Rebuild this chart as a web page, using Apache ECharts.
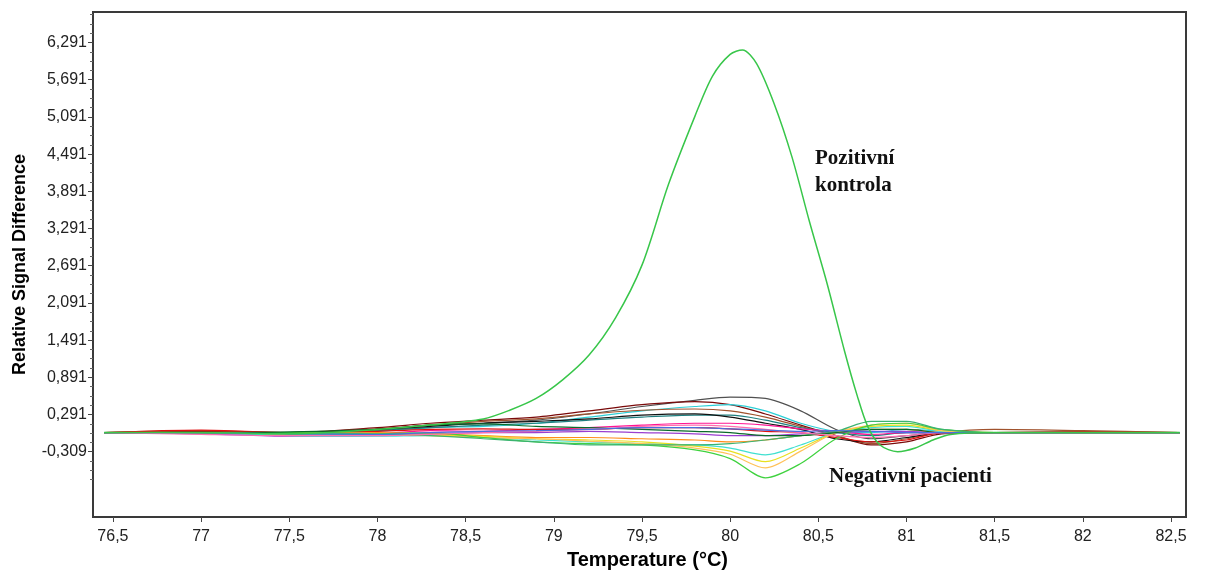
<!DOCTYPE html>
<html>
<head>
<meta charset="utf-8">
<script src="https://cdn.jsdelivr.net/npm/echarts@6/dist/echarts.min.js"></script>
<style>
  html, body { margin: 0; padding: 0; background: #fff; }
  #chart { width: 1216px; height: 573px; }
</style>
</head>
<body>
<div id="chart"></div>
<script>
// tick positions
const xTicks = [76.5, 77, 77.5, 78, 78.5, 79, 79.5, 80, 80.5, 81, 81.5, 82, 82.5]
const yTicks = [-0.309, 0.291, 0.891, 1.491, 2.091, 2.691, 3.291, 3.891, 4.491, 5.091, 5.691, 6.291]
const yMinorTicks = [
  -0.759, -0.609, -0.459, -0.159, -0.009, 0.141, 0.441, 0.591, 0.741,
  1.041, 1.191, 1.341, 1.641, 1.791, 1.941, 2.241, 2.391, 2.541,
  2.841, 2.991, 3.141, 3.441, 3.591, 3.741, 4.041, 4.191, 4.341,
  4.641, 4.791, 4.941, 5.241, 5.391, 5.541, 5.841, 5.991, 6.141,
  6.441, 6.591, 6.741
]

// positive control (green peak)
const posTemp = [76.45, 77, 77.5, 78, 78.3, 78.6, 78.75, 78.9, 79.05, 79.2, 79.35, 79.5, 79.65, 79.8, 79.9, 80.0, 80.07, 80.15, 80.25, 80.35, 80.45, 80.55, 80.65, 80.72, 80.78, 80.85, 80.95, 81.05, 81.15, 81.25, 81.5, 82, 82.55]
const posSignal = [0, 0, -0.02, 0.05, 0.12, 0.22, 0.36, 0.55, 0.85, 1.25, 1.85, 2.7, 4.0, 5.1, 5.75, 6.1, 6.17, 5.95, 5.3, 4.45, 3.4, 2.4, 1.3, 0.6, 0.1, -0.2, -0.31, -0.25, -0.12, -0.03, 0, 0, 0]

// negative patients, all sampled on the same temperatures
const negTemp = [76.45, 77, 77.5, 78, 78.3, 78.6, 78.9, 79.2, 79.5, 79.8, 80.0, 80.2, 80.4, 80.6, 80.8, 81.0, 81.2, 81.5, 82, 82.55]
const neg01 = [0, 0.01, -0.02, 0.05, 0.12, 0.15, 0.2, 0.3, 0.42, 0.52, 0.57, 0.55, 0.35, 0.05, -0.1, -0.05, 0, 0, 0, 0]
const neg02 = [0, 0.02, 0, 0.08, 0.15, 0.2, 0.25, 0.35, 0.45, 0.5, 0.45, 0.3, 0.12, -0.05, -0.2, -0.15, -0.02, 0, 0.01, 0]
const neg03 = [0, 0, -0.03, 0.02, 0.08, 0.1, 0.15, 0.25, 0.35, 0.42, 0.45, 0.35, 0.15, 0.02, 0, 0.05, 0.02, 0, 0, 0]
const neg04 = [0, 0.03, 0, 0.06, 0.12, 0.18, 0.22, 0.3, 0.36, 0.38, 0.35, 0.25, 0.1, -0.05, -0.18, -0.1, 0, 0.05, 0.03, 0]
const neg05 = [0, 0, -0.02, 0.03, 0.08, 0.12, 0.15, 0.2, 0.25, 0.28, 0.28, 0.2, 0.08, 0, -0.05, 0, 0, 0, 0, 0]
const neg06 = [0, 0, 0, 0.05, 0.1, 0.15, 0.18, 0.22, 0.28, 0.3, 0.25, 0.15, 0.05, -0.1, -0.15, -0.08, 0, 0, 0, 0]
const neg07 = [0, 0, -0.05, -0.02, 0.03, 0.02, 0.05, 0.08, 0.12, 0.15, 0.15, 0.12, 0.06, 0.02, -0.03, 0, 0, 0, 0, 0]
const neg08 = [0, 0.04, 0, 0.02, 0.05, 0.06, 0.05, 0.05, 0.08, 0.08, 0.06, 0.02, 0, -0.08, -0.15, -0.12, 0, 0, 0.01, 0]
const neg09 = [0, -0.02, -0.06, -0.05, -0.02, 0, 0, 0.02, 0, -0.02, -0.05, -0.05, -0.02, 0, 0.02, 0.02, 0, 0, 0, 0]
const neg10 = [0, 0, -0.02, 0, -0.02, -0.05, -0.08, -0.08, -0.1, -0.12, -0.15, -0.12, -0.05, 0, 0.05, 0.05, 0, 0, 0, 0]
const neg11 = [0, 0, -0.05, -0.06, -0.05, -0.08, -0.12, -0.15, -0.18, -0.2, -0.25, -0.36, -0.2, 0, 0.08, 0.1, 0.02, 0, 0, 0]
const neg12 = [0, 0, 0, -0.02, -0.04, -0.06, -0.1, -0.12, -0.15, -0.22, -0.3, -0.47, -0.25, 0, 0.1, 0.12, 0.03, 0, 0, 0]
const neg13 = [0, 0, -0.02, -0.04, -0.05, -0.08, -0.1, -0.14, -0.18, -0.25, -0.35, -0.57, -0.3, 0, 0.12, 0.15, 0.03, 0, 0, 0]
const neg14 = [0, 0, 0, -0.02, 0, -0.08, -0.15, -0.18, -0.2, -0.28, -0.42, -0.73, -0.5, -0.1, 0.12, 0.15, 0.05, 0, 0, 0]
const neg15 = [0, 0, -0.02, -0.03, -0.05, -0.1, -0.15, -0.2, -0.2, -0.2, -0.18, -0.12, -0.05, 0.02, 0.18, 0.18, 0.05, 0, 0, 0]
const neg16 = [0, 0, 0.01, 0.05, 0.12, 0.14, 0.1, 0.08, 0.05, 0.02, 0, -0.05, -0.05, 0, 0.05, 0.05, 0, 0, 0, 0]
const neg17 = [0, -0.03, -0.05, -0.05, -0.03, 0, 0.02, 0.05, 0.1, 0.12, 0.1, 0.05, 0, -0.05, -0.08, -0.05, 0, 0, 0, 0]
const neg18 = [0, 0, -0.02, -0.03, 0, 0.02, 0.03, 0.05, 0.08, 0.08, 0.06, 0.04, 0.02, 0.03, 0.02, 0, 0, 0, 0, 0]

const negatives = [neg01, neg02, neg03, neg04, neg05, neg06, neg07, neg08, neg09, neg10, neg11, neg12, neg13, neg14, neg15, neg16, neg17, neg18]
const negColors = ['#505050', '#7a0a0a', '#2ccfd6', '#a0522d', '#1f7f7f', '#111111', '#ff1493', '#e01010', '#9b3fd0', '#ff8c1a',
  '#40e0d0', '#e8e020', '#ffc25a', '#3fd23f', '#3cb371', '#0a6a2a', '#ff6fb0', '#4a6fe0']

const comma = v => String(v).replace('.', ',')

const chart = echarts.init(document.getElementById('chart'), null, { renderer: 'canvas' })

const series = negatives.map((vals, i) => ({
  name: 'neg' + (i + 1),
  type: 'line',
  data: negTemp.map((t, j) => [t, vals[j]]),
  showSymbol: false,
  smooth: 0.3,
  lineStyle: { color: negColors[i], width: 1.2 },
  z: 2
}))

series.push({
  name: 'Pozitivní kontrola',
  type: 'line',
  data: posTemp.map((t, j) => [t, posSignal[j]]),
  showSymbol: false,
  smooth: 0.3,
  lineStyle: { color: '#38c64a', width: 1.5 },
  z: 3
})

chart.setOption({
  animation: false,
  backgroundColor: '#fff',
  grid: {
    left: 93,
    right: 30,
    top: 12,
    bottom: 56,
    outerBoundsMode: 'none',
    containLabel: false,
    show: true,
    borderColor: '#3a3a3a',
    borderWidth: 2
  },
  xAxis: {
    type: 'value',
    min: 76.387,
    max: 82.585,
    name: 'Temperature (°C)',
    nameLocation: 'middle',
    nameGap: 33,
    nameTextStyle: { fontFamily: 'Liberation Sans', fontWeight: 'bold', fontSize: 20, color: '#000', padding: [0, 0, 0, 16] },
    axisLine: { show: false, onZero: false },
    splitLine: { show: false },
    axisTick: { show: true, customValues: xTicks, length: 5, lineStyle: { color: '#444' } },
    axisLabel: {
      customValues: xTicks,
      formatter: comma,
      fontFamily: 'Liberation Sans',
      fontSize: 16,
      color: '#222',
      margin: 12
    }
  },
  yAxis: [{
    type: 'value',
    min: -1.362,
    max: 6.783,
    name: 'Relative Signal Difference',
    nameLocation: 'middle',
    nameGap: 64,
    nameRotate: 90,
    nameTextStyle: { fontFamily: 'Liberation Sans', fontWeight: 'bold', fontSize: 18, color: '#000' },
    axisLine: { show: false, onZero: false },
    splitLine: { show: false },
    axisTick: { show: true, customValues: yTicks, length: 5, lineStyle: { color: '#444' } },
    axisLabel: {
      customValues: yTicks,
      formatter: comma,
      fontFamily: 'Liberation Sans',
      fontSize: 16,
      color: '#222',
      margin: 6
    }
  }, {
    // minor ticks only
    type: 'value',
    position: 'left',
    min: -1.362,
    max: 6.783,
    axisLine: { show: false, onZero: false },
    splitLine: { show: false },
    axisLabel: { show: false },
    axisTick: { show: true, customValues: yMinorTicks, length: 3, lineStyle: { color: '#666' } }
  }],
  graphic: [
    {
      type: 'text',
      left: 815,
      top: 145,
      style: {
        text: 'Pozitivní\nkontrola',
        font: 'bold 21px "Liberation Serif"',
        lineHeight: 27,
        fill: '#111'
      }
    },
    {
      type: 'text',
      left: 829,
      top: 466,
      style: {
        text: 'Negativní pacienti',
        font: 'bold 21px "Liberation Serif"',
        fill: '#111'
      }
    }
  ],
  series
})
</script>
</body>
</html>
